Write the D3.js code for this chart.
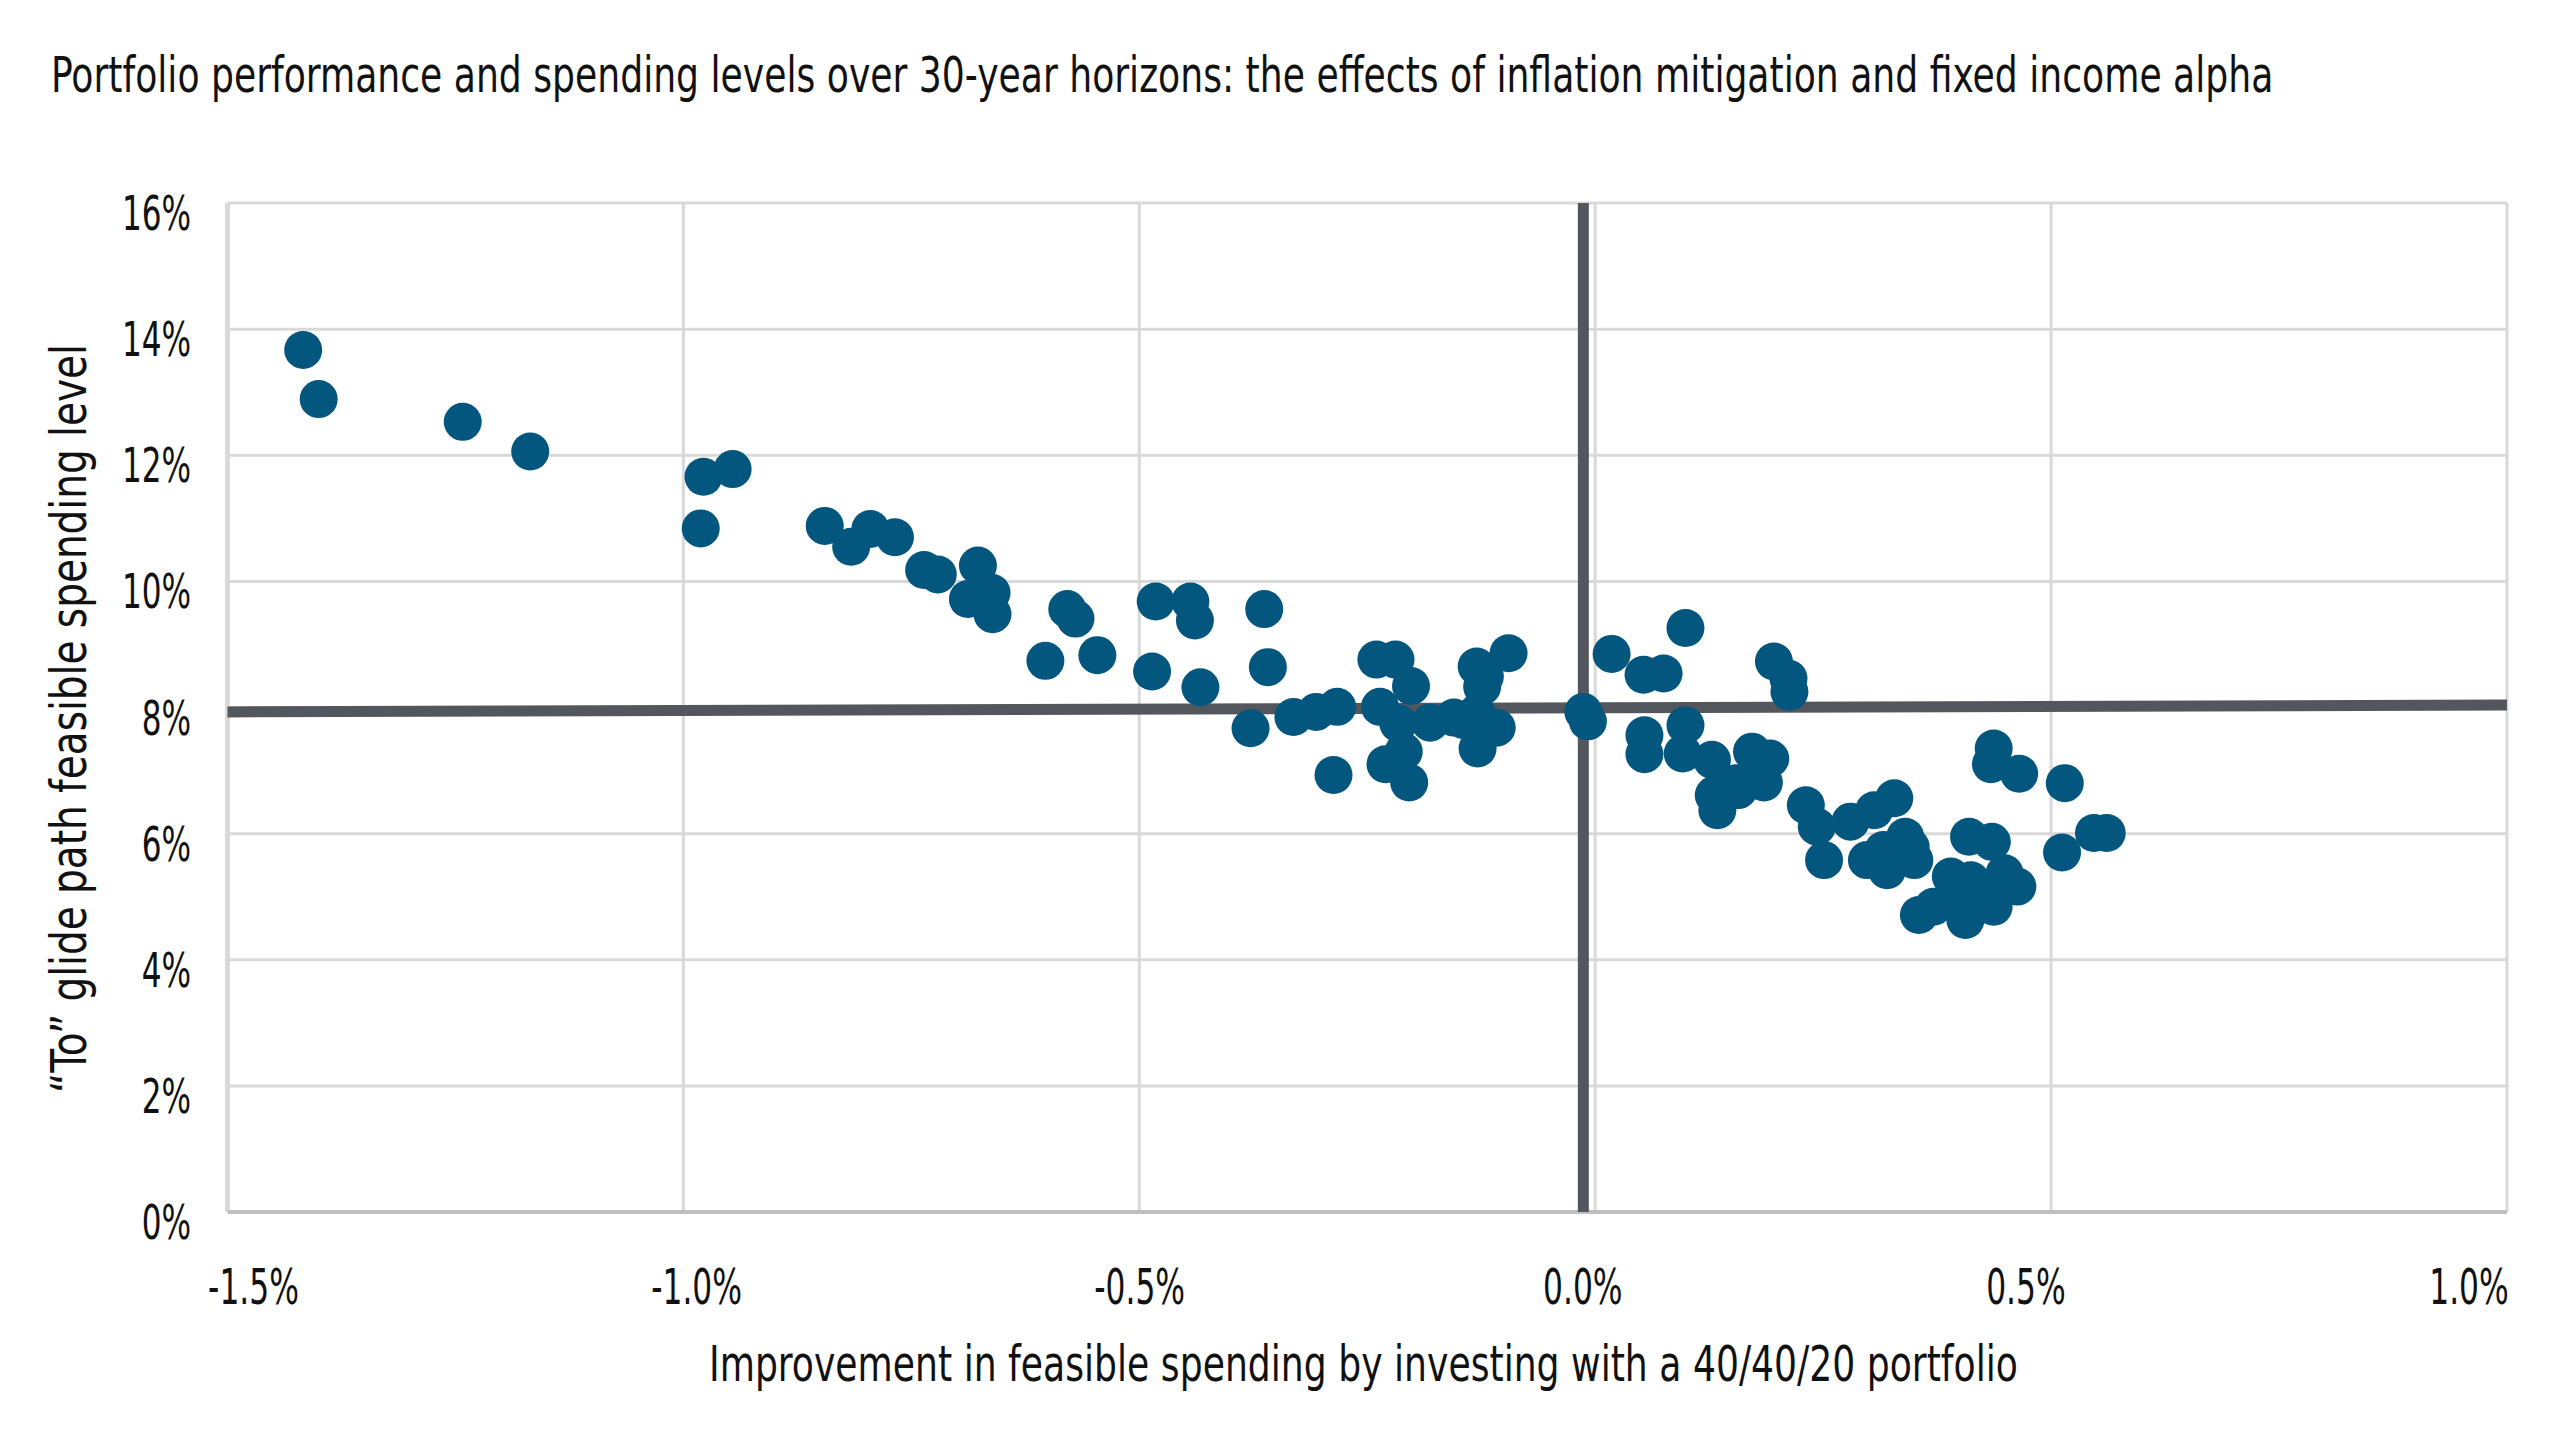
<!DOCTYPE html>
<html>
<head>
<meta charset="utf-8">
<script src="https://cdn.jsdelivr.net/npm/d3@7"></script>
<style>
  body { margin: 0; background: #fff; }
  text { font-family: "Liberation Sans Narrow", "DejaVu Sans Condensed", sans-serif; fill: #111; }
</style>
</head>
<body>
<div id="chart"></div>
<script>
// Chart data
const improvement = [
  -1.417, -1.400, -1.242, -1.168, -0.978, -0.946, -0.981, -0.845, -0.816, -0.795,
  -0.768, -0.736, -0.721, -0.677, -0.688, -0.662, -0.661, -0.579, -0.570, -0.603,
  -0.546, -0.482, -0.444, -0.439, -0.363, -0.486, -0.433, -0.359, -0.378, -0.331,
  -0.306, -0.283, -0.287, -0.240, -0.219, -0.202, -0.236, -0.216, -0.181, -0.155,
  -0.210, -0.230, -0.204, -0.130, -0.095, -0.121, -0.124, -0.129, -0.108, -0.144,
  -0.130, -0.013, -0.008, 0.018, 0.053, 0.075, 0.099, 0.054, 0.054, 0.099,
  0.096, 0.128, 0.130, 0.134, 0.172, 0.157, 0.185, 0.192, 0.155, 0.196,
  0.212, 0.213, 0.231, 0.243, 0.251, 0.280, 0.306, 0.328, 0.298, 0.320,
  0.346, 0.350, 0.316, 0.355, 0.371, 0.390, 0.410, 0.435, 0.406, 0.437,
  0.463, 0.449, 0.412, 0.423, 0.393, 0.437, 0.434, 0.465, 0.515, 0.512,
  0.547, 0.561, 0.340
]
const spending = [
  13.67, 12.89, 12.53, 12.06, 11.66, 11.78, 10.84, 10.88, 10.55, 10.83,
  10.70, 10.18, 10.11, 10.25, 9.72, 9.82, 9.48, 9.56, 9.41, 8.74,
  8.83, 9.68, 9.68, 9.38, 9.56, 8.57, 8.32, 8.64, 7.67, 7.85,
  7.93, 8.01, 6.93, 8.76, 8.76, 8.34, 8.01, 7.75, 7.76, 7.84,
  7.30, 7.10, 6.81, 8.65, 8.86, 8.49, 8.33, 7.35, 7.68, 7.80,
  7.91, 7.93, 7.78, 8.85, 8.52, 8.54, 9.26, 7.56, 7.26, 7.72,
  7.27, 7.17, 6.61, 6.37, 7.30, 6.69, 6.81, 7.19, 6.80, 8.73,
  8.46, 8.25, 6.45, 6.11, 5.58, 6.19, 6.37, 6.56, 5.58, 5.42,
  5.79, 5.58, 5.74, 4.71, 4.84, 5.32, 5.95, 5.87, 4.63, 4.84,
  5.16, 5.37, 5.26, 5.05, 5.05, 7.35, 7.10, 6.95, 6.80, 5.70,
  6.01, 6.01, 5.95
]
const xTicks = [-1.5, -1.0, -0.5, 0.0, 0.5, 1.0]
const yTicks = [0, 2, 4, 6, 8, 10, 12, 14, 16]
// dark reference lines
const refLineX = [-1.5, 1.0]
const refLineY = [7.93, 8.04]
const zeroLineX = -0.013

const titleText = 'Portfolio performance and spending levels over 30-year horizons: the effects of inflation mitigation and fixed income alpha'
const xTitle = 'Improvement in feasible spending by investing with a 40/40/20 portfolio'
const yTitle = '\u201CTo\u201D glide path feasible spending level'

// Layout
const W = 2560, H = 1440
const plot = { left: 227.5, right: 2507, top: 203, bottom: 1212 }

const svg = d3.select('#chart').append('svg')
  .attr('width', W)
  .attr('height', H)
  .style('background', '#fff')

const x = d3.scaleLinear().domain([-1.5, 1.0]).range([plot.left, plot.right])
const y = d3.scaleLinear().domain([0, 16]).range([plot.bottom, plot.top])

// place a text at (px, py) and squeeze it horizontally (narrow face of the original)
// width: target width in px, or null to use factor k
const place = (node, px, py, width, k, rot) => {
  const len = node.getComputedTextLength()
  const s = width ? width / len : k
  d3.select(node).attr('transform',
    `translate(${px},${py})${rot ? ` rotate(${rot})` : ''} scale(${s},1)`)
}

// Gridlines
svg.append('g').selectAll('line')
  .data(yTicks.filter(d => d > 0))
  .enter().append('line')
  .attr('x1', plot.left).attr('x2', plot.right)
  .attr('y1', d => y(d)).attr('y2', d => y(d))
  .attr('stroke', '#d9d9d9').attr('stroke-width', 3)

svg.append('g').selectAll('line')
  .data(xTicks.slice(1))
  .enter().append('line')
  .attr('x1', d => x(d)).attr('x2', d => x(d))
  .attr('y1', plot.top).attr('y2', plot.bottom)
  .attr('stroke', '#d9d9d9').attr('stroke-width', 3)

// Axis lines
svg.append('line')
  .attr('x1', plot.left).attr('x2', plot.left)
  .attr('y1', plot.top).attr('y2', plot.bottom)
  .attr('stroke', '#d9d9d9').attr('stroke-width', 5)
svg.append('line')
  .attr('x1', plot.left).attr('x2', plot.right)
  .attr('y1', plot.bottom).attr('y2', plot.bottom)
  .attr('stroke', '#bfbfbf').attr('stroke-width', 4)

// Dark reference lines
svg.append('line')
  .attr('x1', x(refLineX[0])).attr('x2', x(refLineX[1]))
  .attr('y1', y(refLineY[0])).attr('y2', y(refLineY[1]))
  .attr('stroke', '#53565d').attr('stroke-width', 11)
svg.append('line')
  .attr('x1', x(zeroLineX)).attr('x2', x(zeroLineX))
  .attr('y1', y(0)).attr('y2', y(16))
  .attr('stroke', '#53565d').attr('stroke-width', 11)

// Points
const points = improvement.map((d, i) => ({ x: d, y: spending[i] }))
svg.append('g').selectAll('circle')
  .data(points)
  .enter().append('circle')
  .attr('cx', d => x(d.x))
  .attr('cy', d => y(d.y))
  .attr('r', 19)
  .attr('fill', '#03567e')

// Y tick labels
svg.append('g').selectAll('text')
  .data(yTicks)
  .enter().append('text')
  .attr('text-anchor', 'end')
  .style('font-size', '48px')
  .text(d => `${d}%`)
  .each(function (d) { place(this, 191, y(d) + 27, null, 0.72) })

// X tick labels (spread a little tighter than the gridlines, as in the original)
const xLabel = d3.scaleLinear().domain([-1.5, 1.0]).range([x(-1.5) + 26, x(1.0) - 38])
svg.append('g').selectAll('text')
  .data(xTicks)
  .enter().append('text')
  .attr('text-anchor', 'middle')
  .style('font-size', '49px')
  .text(d => `${d.toFixed(1)}%`)
  .each(function (d) { place(this, xLabel(d), 1304, null, 0.71) })

// Title
svg.append('text')
  .style('font-size', '50px')
  .text(titleText)
  .each(function () { place(this, 51, 92, 2223) })

// Axis titles
svg.append('text')
  .style('font-size', '50px')
  .text(xTitle)
  .each(function () { place(this, 709, 1381, 1309) })

svg.append('text')
  .attr('text-anchor', 'middle')
  .style('font-size', '50px')
  .text(yTitle)
  .each(function () { place(this, 86, 718.6, 749, null, -90) })
</script>
</body>
</html>
